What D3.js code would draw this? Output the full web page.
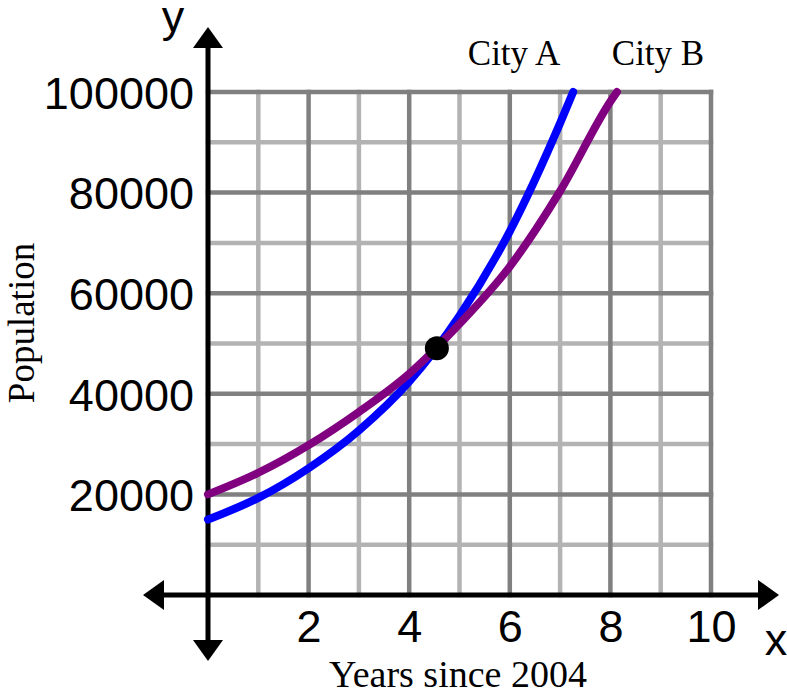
<!DOCTYPE html>
<html>
<head>
<meta charset="utf-8">
<script src="https://cdn.jsdelivr.net/npm/d3@7"></script>
<style>
  body { margin: 0; background: #fff; }
</style>
</head>
<body>
<div id="chart"></div>
<script>
// values
const xTicks = [2, 4, 6, 8, 10];
const yTicks = [20000, 40000, 60000, 80000, 100000];
const gridX = [1, 2, 3, 4, 5, 6, 7, 8, 9, 10];
const gridY = [10000, 20000, 30000, 40000, 50000, 60000, 70000, 80000, 90000, 100000];
const cityA = [[0, 15000], [1, 19300], [2, 25200], [3, 32700], [4, 42400], [5, 55500], [6, 72300], [7, 93800], [7.26, 100000]];
const cityB = [[0, 20000], [1, 24300], [2, 29800], [3, 36400], [4, 44000], [5, 53900], [6, 65300], [7, 80300], [8, 98100], [8.13, 100000]];
const meet = [4.55, 49050];

const W = 787, H = 696;
const x = d3.scaleLinear().domain([0, 10]).range([208, 711]);
const y = d3.scaleLinear().domain([0, 100000]).range([595, 92]);

const svg = d3.select('#chart').append('svg')
  .attr('width', W)
  .attr('height', H);

// grid, light lines first, dark (even) lines on top
const isDarkX = d => d % 2 === 0;
const isDarkY = d => d % 20000 === 0;
const grid = svg.append('g').attr('class', 'grid').style('stroke-linecap', 'square');
[false, true].forEach(dark => {
  grid.append('g').selectAll('line')
    .data(gridX.filter(d => isDarkX(d) === dark))
    .enter().append('line')
    .attr('x1', d => x(d)).attr('x2', d => x(d))
    .attr('y1', y(0)).attr('y2', y(100000))
    .style('stroke', dark ? '#808080' : '#b3b3b3')
    .style('stroke-width', 4.5);
  grid.append('g').selectAll('line')
    .data(gridY.filter(d => isDarkY(d) === dark))
    .enter().append('line')
    .attr('x1', x(0)).attr('x2', x(10))
    .attr('y1', d => y(d)).attr('y2', d => y(d))
    .style('stroke', dark ? '#808080' : '#b3b3b3')
    .style('stroke-width', 4.5);
});

// axes lines with arrows
const axes = svg.append('g').attr('class', 'axes');
axes.append('line')
  .attr('x1', x(0)).attr('x2', x(0))
  .attr('y1', 45).attr('y2', 643)
  .style('stroke', '#000').style('stroke-width', 5);
axes.append('line')
  .attr('x1', 162).attr('x2', 761)
  .attr('y1', y(0)).attr('y2', y(0))
  .style('stroke', '#000').style('stroke-width', 5);
const arrows = [
  [[x(0), 27], [x(0) - 15, 48], [x(0) + 15, 48]],
  [[x(0), 661], [x(0) - 15, 640], [x(0) + 15, 640]],
  [[143, y(0)], [164, y(0) - 15], [164, y(0) + 15]],
  [[779, y(0)], [758, y(0) - 15], [758, y(0) + 15]]
];
axes.selectAll('path.arrow')
  .data(arrows)
  .enter().append('path')
  .attr('class', 'arrow')
  .attr('d', d => 'M' + d.join('L') + 'Z')
  .style('fill', '#000');

// tick labels through d3 axes
const yAxis = svg.append('g')
  .attr('transform', `translate(${x(0)},0)`)
  .call(d3.axisLeft(y).tickValues(yTicks).tickSize(0).tickPadding(14).tickFormat(d3.format('d')));
const xAxis = svg.append('g')
  .attr('transform', `translate(0,${y(0)})`)
  .call(d3.axisBottom(x).tickValues(xTicks).tickSize(0).tickPadding(15));
[yAxis, xAxis].forEach(a => {
  a.select('.domain').remove();
  a.selectAll('text')
    .style('font-family', '"Liberation Sans", Arial, sans-serif')
    .style('font-size', '45px')
    .style('fill', '#000');
});
yAxis.selectAll('text').attr('dy', '0.36em');

const sans = '"Liberation Sans", Arial, sans-serif';
const serif = '"Liberation Serif", "Times New Roman", serif';
svg.append('text').attr('x', 776).attr('y', 655).attr('text-anchor', 'middle')
  .style('font-family', sans).style('font-size', '45px').text('x');
svg.append('text').attr('x', 173).attr('y', 32).attr('text-anchor', 'middle')
  .style('font-family', sans).style('font-size', '45px').text('y');

svg.append('text').attr('x', 458).attr('y', 687).attr('text-anchor', 'middle')
  .style('font-family', serif).style('font-size', '38px').text('Years since 2004');
svg.append('text')
  .attr('transform', 'translate(34,323) rotate(-90)')
  .attr('text-anchor', 'middle')
  .style('font-family', serif).style('font-size', '37px').text('Population');

// curves
const line = d3.line()
  .x(d => x(d[0]))
  .y(d => y(d[1]))
  .curve(d3.curveMonotoneX);
const series = [
  {name: 'City A', pts: cityA, color: '#0000ff', lx: 514},
  {name: 'City B', pts: cityB, color: '#800080', lx: 658}
];
svg.append('g').selectAll('path')
  .data(series)
  .enter().append('path')
  .attr('d', d => line(d.pts))
  .style('fill', 'none')
  .style('stroke', d => d.color)
  .style('stroke-width', 8)
  .style('stroke-linecap', 'round');

svg.append('g').selectAll('text')
  .data(series)
  .enter().append('text')
  .attr('x', d => d.lx)
  .attr('y', 65)
  .attr('text-anchor', 'middle')
  .style('font-family', serif)
  .style('font-size', '35px')
  .text(d => d.name);

svg.append('circle')
  .attr('cx', x(meet[0]))
  .attr('cy', y(meet[1]))
  .attr('r', 12)
  .style('fill', '#000');
</script>
</body>
</html>
